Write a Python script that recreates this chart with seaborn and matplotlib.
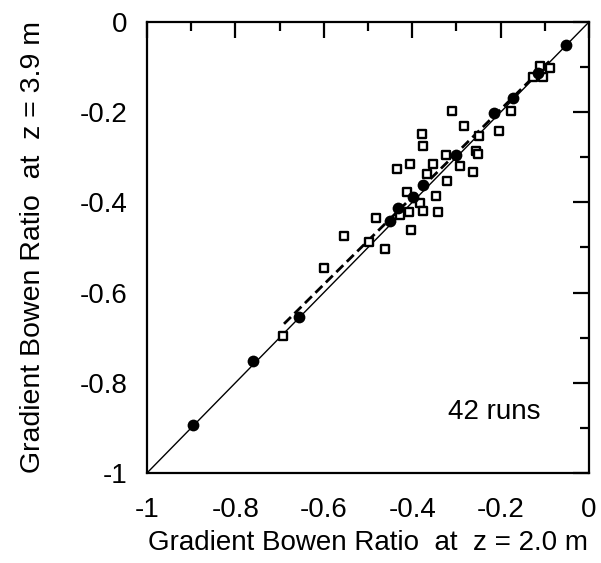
import numpy as np
import pandas as pd
import matplotlib
matplotlib.use("Agg")
import matplotlib.pyplot as plt
import seaborn as sns
from matplotlib.ticker import MultipleLocator

# Individual runs: Bowen ratio at 2.0 m vs 3.9 m (open squares)
run_x = [-0.310, -0.283, -0.378, -0.376, -0.249, -0.204, -0.324, -0.256, -0.250,
         -0.292, -0.262, -0.405, -0.434, -0.353, -0.367, -0.321, -0.412, -0.346,
         -0.382, -0.376, -0.342, -0.407, -0.428, -0.482, -0.403, -0.462, -0.554,
         -0.600, -0.498, -0.692, -0.111, -0.088, -0.127, -0.104, -0.176]
run_y = [-0.197, -0.231, -0.248, -0.275, -0.253, -0.242, -0.295, -0.285, -0.292,
         -0.319, -0.333, -0.315, -0.326, -0.315, -0.337, -0.353, -0.377, -0.386,
         -0.401, -0.419, -0.421, -0.421, -0.428, -0.435, -0.461, -0.503, -0.474,
         -0.545, -0.488, -0.696, -0.098, -0.102, -0.122, -0.122, -0.197]

# Filled circles along the 1:1 line
avg_x = [-0.895, -0.760, -0.656, -0.450, -0.432, -0.398, -0.376, -0.300,
         -0.215, -0.172, -0.115, -0.052]
avg_y = [-0.893, -0.752, -0.654, -0.441, -0.412, -0.388, -0.361, -0.295,
         -0.202, -0.169, -0.113, -0.051]

# Least-squares fit (dashed) over the range of the runs
fit_slope = 0.97
fit_intercept = 0.0
fit_range = [-0.69, -0.09]

ticks = [-1, -0.8, -0.6, -0.4, -0.2, 0]
tick_labels = ["-1", "-0.8", "-0.6", "-0.4", "-0.2", "0"]

sns.set_theme(style="white")
plt.rcParams["font.family"] = ["Liberation Sans", "DejaVu Sans"]
plt.rcParams["text.color"] = "black"
plt.rcParams["axes.labelcolor"] = "black"
plt.rcParams["xtick.color"] = "black"
plt.rcParams["ytick.color"] = "black"

fig = plt.figure(figsize=(6.01, 5.63), dpi=100)
ax = fig.add_axes([0.2446, 0.1599, 0.7354, 0.8010])

runs = pd.DataFrame({"x": run_x, "y": run_y})
avgs = pd.DataFrame({"x": avg_x, "y": avg_y})

# 1:1 line
ax.plot([-1, 0], [-1, 0], color="black", lw=1.0, zorder=1)

fx = np.array(fit_range)
ax.plot(fx, fit_slope * fx + fit_intercept, color="black", lw=2.0,
        dashes=(3.5, 1.8), zorder=2)

sns.scatterplot(data=runs, x="x", y="y", ax=ax, marker="s", s=38,
                facecolor="white", edgecolor="black", linewidth=1.7, zorder=3)
sns.scatterplot(data=avgs, x="x", y="y", ax=ax, marker="o", s=72,
                color="black", edgecolor="black", linewidth=0, zorder=4)

ax.set_xlim(-1, 0)
ax.set_ylim(-1, 0)
ax.set_xticks(ticks)
ax.set_xticklabels(tick_labels)
ax.set_yticks(ticks)
ax.set_yticklabels(tick_labels)
ax.xaxis.set_minor_locator(MultipleLocator(0.1))
ax.yaxis.set_minor_locator(MultipleLocator(0.1))

ax.tick_params(which="major", direction="in", length=11.5, width=1.6,
               top=True, right=True, labelsize=20, pad=14, color="black",
               labelcolor="black")
ax.tick_params(which="minor", direction="in", length=6.5, width=1.6,
               top=True, right=True, color="black")
ax.tick_params(axis="x", which="major", pad=17)

for sp in ax.spines.values():
    sp.set_linewidth(1.6)
    sp.set_color("black")

ax.set_xlabel("Gradient Bowen Ratio  at  z = 2.0 m", fontsize=20, labelpad=5)
ax.set_ylabel("Gradient Bowen Ratio  at  z = 3.9 m", fontsize=20.5, labelpad=24)

ax.text(-0.215, -0.865, "42 runs", fontsize=20, ha="center", va="center")

fig.savefig("out.png", dpi=100)
